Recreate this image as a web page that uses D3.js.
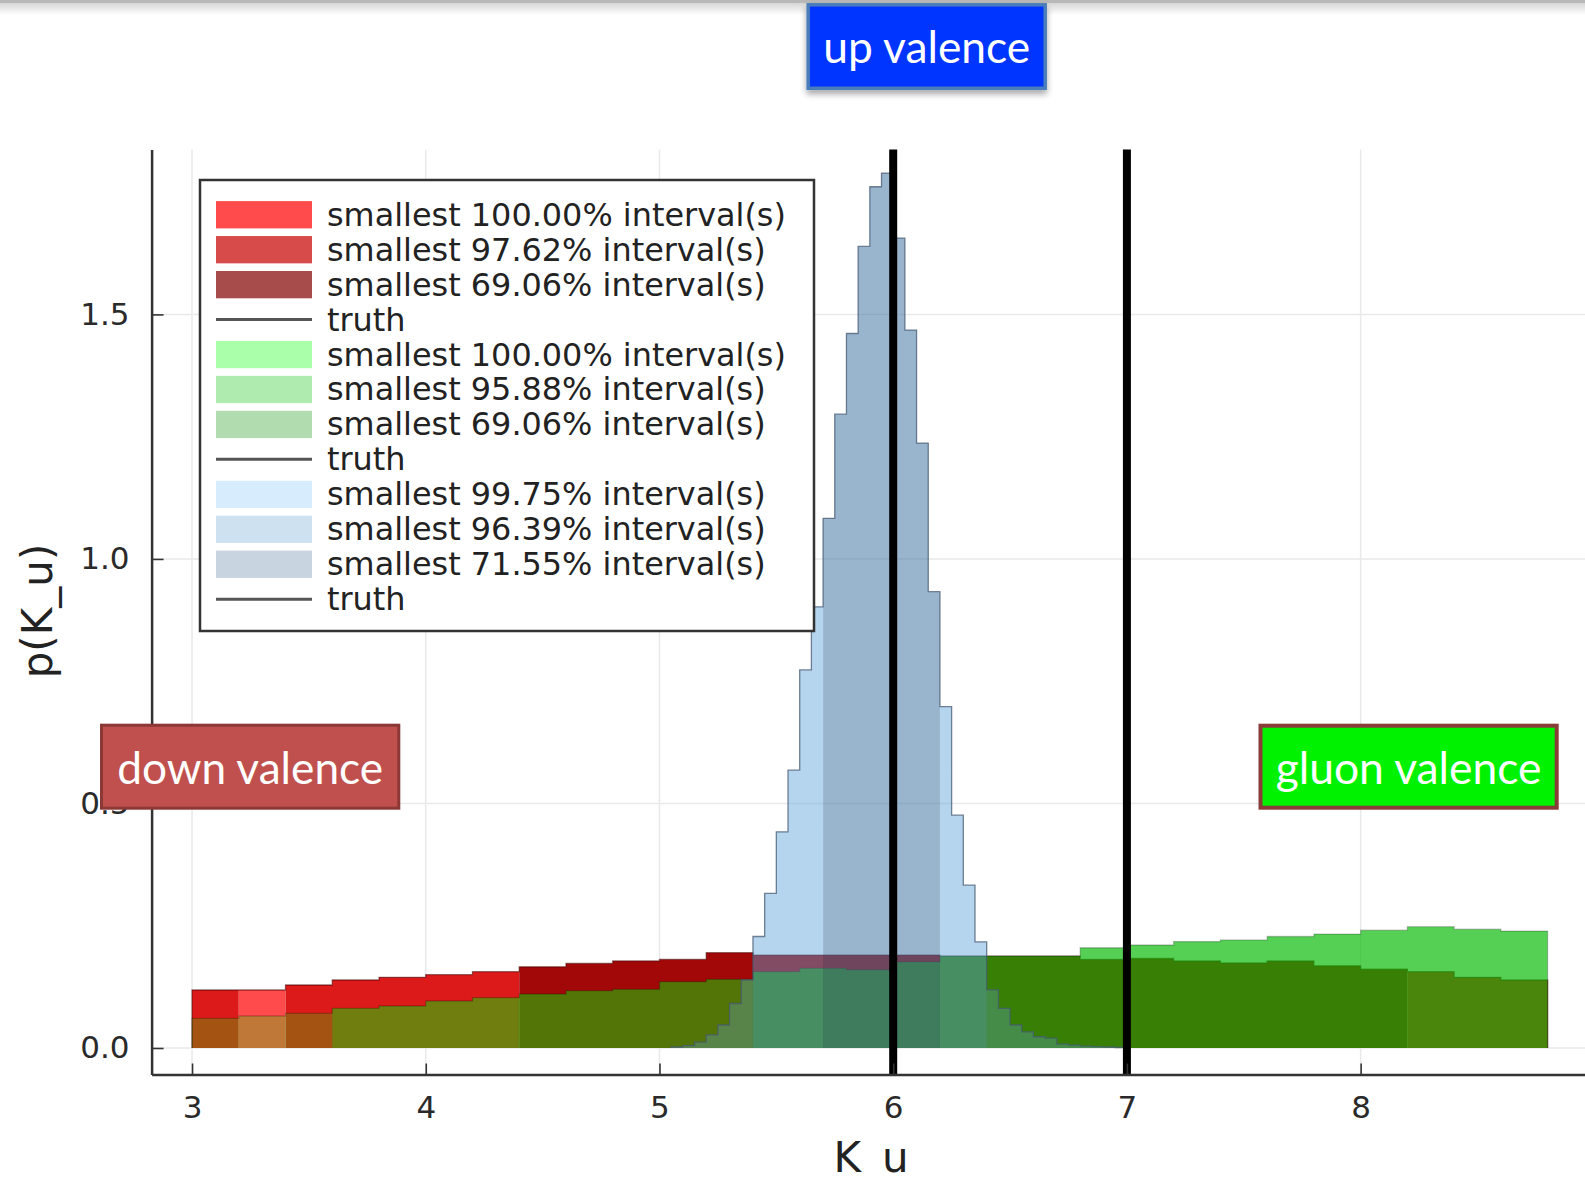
<!DOCTYPE html>
<html>
<head>
<meta charset="utf-8">
<script src="https://cdn.jsdelivr.net/npm/d3@7"></script>
<style>
  body { margin: 0; background: #fff; overflow: hidden; }
  svg { display: block; }
</style>
</head>
<body>
<div id="chart"></div>
<script>
// down valence histogram (0.2 wide bins from 3.0)
const downStart = 3.0, downWidth = 0.2;
const downHeights = [0.1186, 0.1186, 0.1288, 0.139, 0.1445, 0.150, 0.156, 0.166, 0.173, 0.178,
  0.181, 0.195, 0.190, 0.190, 0.190, 0.190, 0.188, 0.188, 0.188, 0.181,
  0.183, 0.178, 0.174, 0.178, 0.168, 0.161, 0.156, 0.1445, 0.139];
const downIntervals = [97.62, 100, 97.62, 97.62, 97.62, 97.62, 97.62, 69.06, 69.06, 69.06,
  69.06, 69.06, 69.06, 69.06, 69.06, 69.06, 69.06, 69.06, 69.06, 69.06,
  69.06, 69.06, 69.06, 69.06, 69.06, 69.06, 97.62, 97.62, 97.62];

// gluon valence histogram (same binning)
const gluonStart = 3.0, gluonWidth = 0.2;
const gluonHeights = [0.0607, 0.0654, 0.0709, 0.0811, 0.0859, 0.0961, 0.1029, 0.1104, 0.1172, 0.120,
  0.1356, 0.1404, 0.156, 0.163, 0.160, 0.176, 0.188, 0.188, 0.188, 0.205,
  0.2106, 0.2175, 0.221, 0.228, 0.233, 0.241, 0.248, 0.243, 0.239];
const gluonIntervals = [100, 100, 100, 95.88, 95.88, 95.88, 95.88, 95.88, 95.88, 95.88,
  95.88, 95.88, 69.06, 69.06, 69.06, 69.06, 69.06, 69.06, 69.06, 69.06,
  69.06, 69.06, 69.06, 69.06, 69.06, 69.06, 69.06, 69.06, 69.06];

// up valence histogram (0.05 wide bins from 5.05)
const upStart = 5.05, upWidth = 0.05;
const upHeights = [0.002, 0.005, 0.012, 0.027, 0.047, 0.091, 0.139, 0.228, 0.316, 0.442,
  0.568, 0.773, 0.902, 1.083, 1.296, 1.461, 1.639, 1.761, 1.789, 1.656,
  1.468, 1.237, 0.933, 0.698, 0.476, 0.333, 0.217, 0.119, 0.081, 0.047,
  0.033, 0.023, 0.020, 0.008, 0.006, 0.004, 0.003, 0.002, 0.001];
const upIntervals = [99.75, 99.75, 99.75, 99.75, 99.75, 99.75, 99.75, 96.39, 96.39, 96.39,
  96.39, 96.39, 96.39, 71.55, 71.55, 71.55, 71.55, 71.55, 71.55, 71.55,
  71.55, 71.55, 71.55, 96.39, 96.39, 96.39, 96.39, 99.75, 99.75, 99.75,
  99.75, 99.75, 99.75, 99.75, 99.75, 99.75, 99.75, 99.75, 99.75];

const truthValues = [6, 7];
const xTicks = [3, 4, 5, 6, 7, 8];
const yTicks = [0, 0.5, 1.0, 1.5];

const legendLabels = ["smallest 100.00% interval(s)", "smallest 97.62% interval(s)", "smallest 69.06% interval(s)", "truth",
  "smallest 100.00% interval(s)", "smallest 95.88% interval(s)", "smallest 69.06% interval(s)", "truth",
  "smallest 99.75% interval(s)", "smallest 96.39% interval(s)", "smallest 71.55% interval(s)", "truth"];
const legendColors = ["#ff4b4b", "#d84b4b", "#a84b4b", "#555", "#aaffaa", "#afebaf", "#b0dcb0", "#555",
  "#d7ecfc", "#cde1f0", "#c8d4e0", "#555"];

// fill colour + opacity per interval
const downFill = {100: ["#ff4b4b", 1], 97.62: ["#dc1a1a", 1], 69.06: ["#a30808", 1]};
const gluonFill = {100: ["#00ff00", 0.25], 95.88: ["#00e405", 0.49], 69.06: ["#05ba05", 0.68]};
const upFill = {99.75: ["#64aae6", 0.3], 96.39: ["#5aa0d7", 0.45], 71.55: ["#4678a5", 0.55]};

const svgWidth = 1585, svgHeight = 1178;

const svg = d3.select("#chart").append("svg")
  .attr("width", svgWidth)
  .attr("height", svgHeight);

const defs = svg.append("defs");
const grad = defs.append("linearGradient").attr("id", "topShade")
  .attr("x1", 0).attr("x2", 0).attr("y1", 0).attr("y2", 1);
grad.append("stop").attr("offset", "0%").attr("stop-color", "#000").attr("stop-opacity", 0.16);
grad.append("stop").attr("offset", "100%").attr("stop-color", "#000").attr("stop-opacity", 0);
defs.append("filter").attr("id", "boxShadow").attr("x", "-10%").attr("y", "-10%").attr("width", "120%").attr("height", "140%")
  .append("feDropShadow").attr("dx", 0).attr("dy", 4).attr("stdDeviation", 3)
  .attr("flood-color", "#000").attr("flood-opacity", 0.35);

// scales: plot frame 151.6..(off page) x 149.6..1074.5
const x = d3.scaleLinear().domain([2.827, 9.0]).range([151.6, 151.6 + 6.173 * 233.72]);
const y = d3.scaleLinear().domain([-0.0542, 1.837]).range([1074.5, 149.6]);

// grid
svg.append("g").selectAll("line").data(xTicks).enter().append("line")
  .attr("x1", d => x(d)).attr("x2", d => x(d))
  .attr("y1", y.range()[1]).attr("y2", y.range()[0])
  .attr("stroke", "#e9e9e9").attr("stroke-width", 1.5);
svg.append("g").selectAll("line").data(yTicks).enter().append("line")
  .attr("x1", x.range()[0]).attr("x2", x.range()[1])
  .attr("y1", d => y(d)).attr("y2", d => y(d))
  .attr("stroke", "#e9e9e9").attr("stroke-width", 1.5);

// group consecutive bins of the same interval into one step polygon
function binRuns(start, width, heights, intervals) {
  var runs = [];
  heights.forEach(function(h, i) {
    var last = runs[runs.length - 1];
    if (!last || last.interval !== intervals[i]) {
      last = {interval: intervals[i], points: []};
      runs.push(last);
    }
    last.points.push([start + i * width, h]);
    last.end = [start + (i + 1) * width, h];
  });
  runs.forEach(function(r) { r.points.push(r.end); });
  return runs;
}

function outlinePoints(start, width, heights) {
  var pts = [[start, 0]];
  heights.forEach(function(h, i) { pts.push([start + i * width, h]); });
  var end = start + heights.length * width;
  pts.push([end, heights[heights.length - 1]]);
  pts.push([end, 0]);
  return pts;
}

const area = d3.area().curve(d3.curveStepAfter)
  .x(d => x(d[0])).y0(y(0)).y1(d => y(d[1]));
const line = d3.line().curve(d3.curveStepAfter)
  .x(d => x(d[0])).y(d => y(d[1]));

function drawHist(start, width, heights, intervals, fills, outline) {
  var g = svg.append("g");
  g.selectAll("path.bin")
    .data(binRuns(start, width, heights, intervals)).enter()
    .append("path")
    .attr("class", "bin")
    .attr("d", d => area(d.points))
    .attr("fill", d => fills[d.interval][0])
    .attr("fill-opacity", d => fills[d.interval][1]);
  g.append("path")
    .attr("d", line(outlinePoints(start, width, heights)))
    .attr("fill", "none")
    .attr("stroke", outline)
    .attr("stroke-width", 1.3);
}

drawHist(downStart, downWidth, downHeights, downIntervals, downFill, "rgba(70,0,0,0.55)");
drawHist(gluonStart, gluonWidth, gluonHeights, gluonIntervals, gluonFill, "rgba(0,0,0,0.22)");
drawHist(upStart, upWidth, upHeights, upIntervals, upFill, "rgba(70,90,115,0.75)");

// truth lines
svg.append("g").selectAll("line").data(truthValues).enter().append("line")
  .attr("x1", d => x(d)).attr("x2", d => x(d))
  .attr("y1", y.range()[1]).attr("y2", y.range()[0])
  .attr("stroke", "#000").attr("stroke-width", 8);

// axes
const xAxis = svg.append("g")
  .attr("transform", "translate(0," + y.range()[0] + ")")
  .call(d3.axisBottom(x).tickValues(xTicks).tickFormat(d3.format("d"))
    .tickSizeInner(-11).tickSizeOuter(0).tickPadding(21));
const yAxis = svg.append("g")
  .attr("transform", "translate(" + x.range()[0] + ",0)")
  .call(d3.axisLeft(y).tickValues(yTicks).tickFormat(d3.format(".1f"))
    .tickSizeInner(-12).tickSizeOuter(0).tickPadding(22));
[xAxis, yAxis].forEach(function(a) {
  a.select(".domain").attr("stroke", "#333").attr("stroke-width", 2.5);
  a.selectAll(".tick line").attr("stroke", "#333").attr("stroke-width", 1.6);
  a.selectAll(".tick text")
    .attr("font-family", "DejaVu Sans").attr("font-size", 31).attr("fill", "#2a2a2a");
});

// axis titles
svg.append("text")
  .attr("x", 871).attr("y", 1172)
  .attr("text-anchor", "middle")
  .attr("font-family", "DejaVu Sans").attr("font-size", 42).attr("fill", "#222")
  .text("K_u");
svg.append("text")
  .attr("transform", "translate(52,611) rotate(-90)")
  .attr("text-anchor", "middle")
  .attr("font-family", "DejaVu Sans").attr("font-size", 42).attr("fill", "#222")
  .text("p(K_u)");

// legend
const legend = svg.append("g");
legend.append("rect")
  .attr("x", 200).attr("y", 180).attr("width", 614).attr("height", 451)
  .attr("fill", "#fff").attr("stroke", "#333").attr("stroke-width", 2.5);
const rows = legend.selectAll("g.row").data(legendLabels).enter().append("g")
  .attr("class", "row")
  .attr("transform", (d, i) => "translate(0," + (214.7 + i * 34.95) + ")");
rows.each(function(d, i) {
  var r = d3.select(this);
  if (d === "truth") {
    r.append("line").attr("x1", 216).attr("x2", 312).attr("y1", 0).attr("y2", 0)
      .attr("stroke", legendColors[i]).attr("stroke-width", 3);
  } else {
    r.append("rect").attr("x", 216).attr("y", -13.6).attr("width", 96).attr("height", 27.3)
      .attr("fill", legendColors[i]);
  }
  r.append("text").attr("x", 327).attr("y", 11)
    .attr("font-family", "DejaVu Sans").attr("font-size", 31.9).attr("fill", "#222")
    .text(d);
});

// slide frame line at the top
svg.append("rect").attr("x", 0).attr("y", 0).attr("width", svgWidth).attr("height", 3).attr("fill", "#b8b8b8");
svg.append("rect").attr("x", 0).attr("y", 3).attr("width", svgWidth).attr("height", 12).attr("fill", "url(#topShade)");

// callout boxes
const boxLabels = ["up valence", "down valence", "gluon valence"];
const boxStyles = [
  {x: 808.2, y: 4.8, w: 237, h: 83.5, fill: "#0434ff", stroke: "#4a7ebb", sw: 3.5, base: 63, tw: 207, shadow: true},
  {x: 101.5, y: 725.2, w: 297.3, h: 83, fill: "#c0504d", stroke: "#8c3836", sw: 3, base: 784, tw: 266},
  {x: 1260.5, y: 725.7, w: 296.2, h: 82, fill: "#00f200", stroke: "#8a3c38", sw: 4, base: 784, tw: 266}
];
boxLabels.forEach(function(label, i) {
  var s = boxStyles[i];
  var g = svg.append("g");
  var r = g.append("rect")
    .attr("x", s.x).attr("y", s.y).attr("width", s.w).attr("height", s.h)
    .attr("fill", s.fill).attr("stroke", s.stroke).attr("stroke-width", s.sw);
  if (s.shadow) r.attr("filter", "url(#boxShadow)");
  var t = g.append("text")
    .attr("x", s.x + s.w / 2).attr("y", s.base)
    .attr("text-anchor", "middle")
    .attr("font-family", "Lato, 'Open Sans', sans-serif").attr("font-size", 42)
    .attr("fill", "#fff")
    .text(label);
  var w = t.node().getComputedTextLength();
  t.attr("font-size", 42 * s.tw / w);
});
</script>
</body>
</html>
